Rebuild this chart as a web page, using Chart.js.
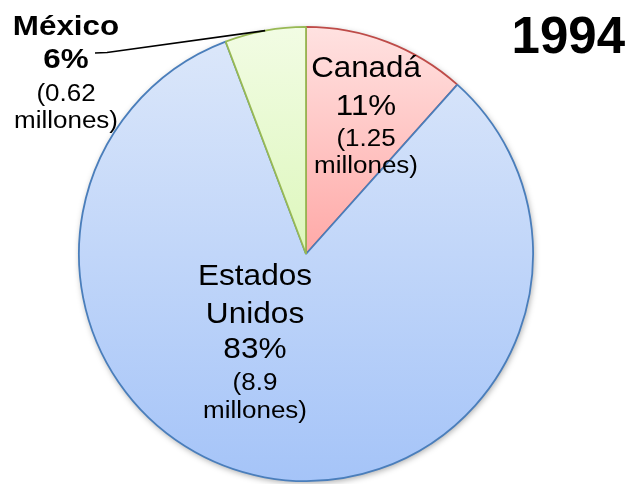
<!DOCTYPE html>
<html>
<head>
<meta charset="utf-8">
<script src="https://cdn.jsdelivr.net/npm/chart.js@4.4.1/dist/chart.umd.min.js"></script>
<style>
  html, body { margin: 0; padding: 0; background: #ffffff; }
  #wrap { width: 627px; height: 484px; position: relative; }
</style>
</head>
<body>
<div id="wrap"><canvas id="c" width="627" height="484"></canvas></div>
<script>
// ---- data ----
const categories = ['Canadá', 'Estados Unidos', 'México'];
const millions = [1.25, 8.9, 0.62];
const percentLabels = ['11%', '83%', '6%'];
const amountLabels = ['(1.25', '(8.9', '(0.62'];
const unitLabel = 'millones)';
const titleText = '1994';

// ---- styles ----
const borderColors = ['#BE4B48', '#4A7EBB', '#98B954'];
const gradTop = ['#FFE2E1', '#DDE8FA', '#F2FCE4'];
const gradBottom = ['#FFA9A7', '#A5C4F8', '#DDF7BC'];

function sliceGradient(ctx) {
  const chart = ctx.chart;
  const area = chart.chartArea;
  if (!area) return gradTop[ctx.dataIndex];
  const midY = (area.top + area.bottom) / 2;
  const i = ctx.dataIndex;
  const bottom = (i === 1) ? area.bottom : midY;
  const g = chart.ctx.createLinearGradient(0, area.top, 0, bottom);
  g.addColorStop(0, gradTop[i]);
  g.addColorStop(1, gradBottom[i]);
  return g;
}

function drawStretched(ctx, text, x, y, sx) {
  ctx.save();
  ctx.translate(x, y);
  ctx.scale(sx, 1);
  ctx.fillText(text, 0, 0);
  ctx.restore();
}

const labelPlugin = {
  id: 'labelPlugin',
  beforeDatasetsDraw(chart) {
    const arc = chart.getDatasetMeta(0).data[0];
    if (!arc) return;
    const ctx = chart.ctx;
    ctx.save();
    ctx.shadowColor = 'rgba(0,0,0,0.35)';
    ctx.shadowBlur = 6;
    ctx.shadowOffsetX = 1;
    ctx.shadowOffsetY = 2;
    ctx.fillStyle = '#ffffff';
    ctx.beginPath();
    ctx.arc(arc.x, arc.y, arc.outerRadius, 0, Math.PI * 2);
    ctx.fill();
    ctx.restore();
  },
  afterDatasetsDraw(chart) {
    const meta = chart.getDatasetMeta(0);
    const arcs = meta.data;
    if (!arcs.length) return;
    const ctx = chart.ctx;
    const cx = arcs[0].x, cy = arcs[0].y;
    ctx.save();
    ctx.fillStyle = '#000000';
    ctx.textAlign = 'center';
    ctx.textBaseline = 'alphabetic';
    const big = '29px "Liberation Sans", Arial, sans-serif';
    const small = '23px "Liberation Sans", Arial, sans-serif';
    const bold = 'bold 28px "Liberation Sans", Arial, sans-serif';

    // Canadá
    let x = cx + 60;
    ctx.font = big;
    drawStretched(ctx, categories[0], x, cy - 177, 1.08);
    drawStretched(ctx, percentLabels[0], x, cy - 139, 1.08);
    ctx.font = small;
    drawStretched(ctx, amountLabels[0], x, cy - 108, 1.13);
    drawStretched(ctx, unitLabel, x, cy - 81, 1.13);

    // Estados Unidos
    x = cx - 51;
    ctx.font = big;
    const us = categories[1].split(' ');
    drawStretched(ctx, us[0], x, cy + 31, 1.09);
    drawStretched(ctx, us[1], x, cy + 69, 1.09);
    drawStretched(ctx, percentLabels[1], x, cy + 104, 1.09);
    ctx.font = small;
    drawStretched(ctx, amountLabels[1], x, cy + 136, 1.13);
    drawStretched(ctx, unitLabel, x, cy + 164, 1.13);

    // México
    x = 66;
    ctx.font = bold;
    drawStretched(ctx, categories[2], x, 35, 1.12);
    drawStretched(ctx, percentLabels[2], x, 68, 1.12);
    ctx.font = small;
    drawStretched(ctx, amountLabels[2], x, 101, 1.13);
    drawStretched(ctx, unitLabel, x, 128, 1.13);

    // leader line to the middle of the México slice edge
    const m = arcs[2];
    const mid = (m.startAngle + m.endAngle) / 2;
    const ex = m.x + Math.cos(mid) * m.outerRadius;
    const ey = m.y + Math.sin(mid) * m.outerRadius;
    ctx.strokeStyle = '#000000';
    ctx.lineWidth = 1.6;
    ctx.beginPath();
    ctx.moveTo(95, 53);
    ctx.lineTo(107, 52.5);
    ctx.lineTo(ex, ey);
    ctx.stroke();

    // title
    ctx.textAlign = 'right';
    ctx.font = 'bold 51px "Liberation Sans", Arial, sans-serif';
    ctx.fillText(titleText, 625, 53);
    ctx.restore();
  }
};

new Chart(document.getElementById('c'), {
  type: 'pie',
  data: {
    labels: categories,
    datasets: [{
      data: millions,
      backgroundColor: sliceGradient,
      borderColor: borderColors,
      borderWidth: 1.8,
      hoverOffset: 0
    }]
  },
  options: {
    responsive: false,
    animation: false,
    devicePixelRatio: 1,
    layout: { padding: { left: 78, right: 93, top: 26, bottom: 2 } },
    plugins: {
      legend: { display: false },
      tooltip: { enabled: false },
      title: { display: false }
    }
  },
  plugins: [labelPlugin]
});
</script>
</body>
</html>
